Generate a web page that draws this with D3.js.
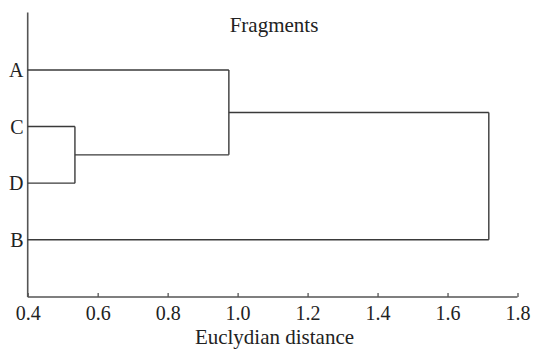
<!DOCTYPE html>
<html>
<head>
<meta charset="utf-8">
<script src="https://cdn.jsdelivr.net/npm/d3@7"></script>
<style>
  html, body { margin: 0; padding: 0; background: #fff; }
  svg { display: block; }
  svg text { font-family: "Liberation Serif", Tinos, "Times New Roman", Times, "DejaVu Serif", serif !important; }
</style>
</head>
<body>
<svg id="chart" width="533" height="350"></svg>
<script>
// ---- data ----
const leaves = ["A", "C", "D", "B"];
const clusterNames = ["CD", "ACD", "ACDB"];
const clusterChildren = [["C", "D"], ["A", "CD"], ["ACD", "B"]];
const clusterHeights = [0.535, 0.975, 1.718];
const xTicks = [0.4, 0.6, 0.8, 1.0, 1.2, 1.4, 1.6, 1.8];
const titleText = "Fragments";
const xLabelText = "Euclydian distance";

// ---- layout ----
const svg = d3.select("#chart");
const mLeft = 27.7, mRight = 517.5, mTop = 12.5, mBottom = 297;
const x = d3.scaleLinear().domain([0.4, 1.8]).range([mLeft, mRight]);
const y = d3.scalePoint().domain(leaves).range([70, 239.7]);
const lineColor = "#3a3a3a";
const serif = "'Liberation Serif', 'Times New Roman', serif";

// node positions
const pos = {};
leaves.forEach(l => { pos[l] = { x: x(0.4), y: y(l) }; });
clusterNames.forEach((name, i) => {
  const ch = clusterChildren[i];
  pos[name] = { x: x(clusterHeights[i]), y: d3.mean(ch, c => pos[c].y) };
});

// axes
const xAxis = d3.axisBottom(x).tickValues(xTicks).tickFormat(d3.format(".1f")).tickSize(-4).tickPadding(8);
const gx = svg.append("g").attr("transform", `translate(0,${mBottom})`).call(xAxis)
  .attr("font-family", serif).attr("font-size", 20);
gx.select(".domain").attr("stroke", "#555").attr("stroke-width", 1.6).attr("d", `M${mLeft},0H${mRight}`);
gx.selectAll(".tick line").attr("stroke", "#555").attr("stroke-width", 1.3);
gx.selectAll(".tick text").attr("font-size", 20).attr("fill", "#222")
  .attr("font-family", serif).attr("dy", "0.75em");

// left axis line (no ticks)
svg.append("line").attr("x1", mLeft).attr("x2", mLeft).attr("y1", mTop).attr("y2", mBottom)
  .attr("stroke", "#555").attr("stroke-width", 1.6);

// dendrogram links
const g = svg.append("g").attr("fill", "none").attr("stroke", lineColor).attr("stroke-width", 1.4);
clusterNames.forEach((name, i) => {
  const p = pos[name];
  const ch = clusterChildren[i];
  ch.forEach(c => {
    g.append("line").attr("x1", pos[c].x).attr("x2", p.x).attr("y1", pos[c].y).attr("y2", pos[c].y);
  });
  const ys = ch.map(c => pos[c].y);
  g.append("line").attr("x1", p.x).attr("x2", p.x).attr("y1", d3.min(ys)).attr("y2", d3.max(ys));
});

// leaf labels
svg.selectAll(".leaf").data(leaves).join("text")
  .attr("x", 23.5).attr("y", d => y(d)).attr("dy", "0.36em")
  .attr("text-anchor", "end").attr("font-size", 20).attr("fill", "#222")
  .attr("font-family", serif)
  .text(d => d);

// title and x label
svg.append("text").attr("x", 274).attr("y", 32).attr("text-anchor", "middle")
  .attr("font-size", 21).attr("fill", "#222").attr("font-family", serif).text(titleText);
svg.append("text").attr("x", 274.5).attr("y", 344).attr("text-anchor", "middle")
  .attr("font-size", 21).attr("fill", "#222").attr("font-family", serif).text(xLabelText);
</script>
</body>
</html>
